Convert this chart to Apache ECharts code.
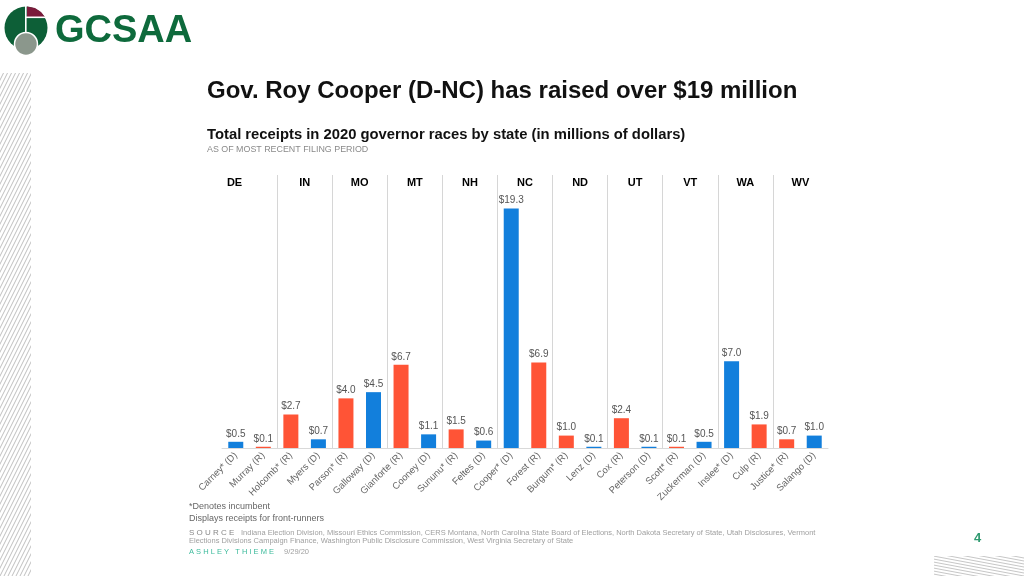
<!DOCTYPE html>
<html>
<head>
<meta charset="utf-8">
<style>
  html, body { margin: 0; padding: 0; background: #ffffff; }
  #chart { width: 1024px; height: 576px; }
</style>
<script src="https://cdn.jsdelivr.net/npm/echarts@6/dist/echarts.min.js"></script>
</head>
<body>
<div id="chart"></div>
<script>
// ---- data ----
var states = ['DE', 'IN', 'MO', 'MT', 'NH', 'NC', 'ND', 'UT', 'VT', 'WA', 'WV'];
var candidates = ['Carney*', 'Murray', 'Holcomb*', 'Myers', 'Parson*', 'Galloway', 'Gianforte', 'Cooney',
  'Sununu*', 'Feltes', 'Cooper*', 'Forest', 'Burgum*', 'Lenz', 'Cox', 'Peterson', 'Scott*', 'Zuckerman',
  'Inslee*', 'Culp', 'Justice*', 'Salango'];
var parties = ['D', 'R', 'R', 'D', 'R', 'D', 'R', 'D', 'R', 'D', 'D', 'R', 'R', 'D', 'R', 'D', 'R', 'D',
  'D', 'R', 'R', 'D'];
var receipts = [0.5, 0.1, 2.7, 0.7, 4.0, 4.5, 6.7, 1.1, 1.5, 0.6, 19.3, 6.9, 1.0, 0.1, 2.4, 0.1, 0.1, 0.5,
  7.0, 1.9, 0.7, 1.0];

var partyColors = { D: '#127fdc', R: '#ff5436' };
var candidateLabels = candidates.map(function (n, i) { return n + ' (' + parties[i] + ')'; });

// ---- hatch pattern tiles ----
function hatchUp() {
  var c = document.createElement('canvas');
  c.width = 4; c.height = 8;
  var ctx = c.getContext('2d');
  ctx.strokeStyle = '#b8b8b8';
  ctx.lineWidth = 0.9;
  ctx.beginPath();
  [-4, 0, 4].forEach(function (k) { ctx.moveTo(k, 8); ctx.lineTo(k + 4, 0); });
  ctx.stroke();
  return c;
}
function hatchDown() {
  var c = document.createElement('canvas');
  c.width = 16; c.height = 3;
  var ctx = c.getContext('2d');
  ctx.strokeStyle = '#b8b8b8';
  ctx.lineWidth = 0.8;
  ctx.beginPath();
  [-3, 0, 3].forEach(function (k) { ctx.moveTo(0, k); ctx.lineTo(16, k + 3); });
  ctx.stroke();
  return c;
}

var chart = echarts.init(document.getElementById('chart'), null, { renderer: 'canvas' });
var sans = '"Liberation Sans", Arial, sans-serif';
var narrow = '"Liberation Sans Narrow", "Liberation Sans", Arial, sans-serif';

var option = {
  backgroundColor: '#ffffff',
  animation: false,
  title: [
    { text: 'Gov. Roy Cooper (D-NC) has raised over $19 million', left: 207, top: 79, padding: 0,
      textStyle: { fontFamily: sans, fontSize: 24, fontWeight: 'bold', color: '#111' } },
    { text: 'Total receipts in 2020 governor races by state (in millions of dollars)', left: 207, top: 127, padding: 0,
      textStyle: { fontFamily: sans, fontSize: 14.8, fontWeight: 'bold', color: '#111' } },
    { text: 'AS OF MOST RECENT FILING PERIOD', left: 207, top: 145, padding: 0,
      textStyle: { fontFamily: sans, fontSize: 8.9, fontWeight: 'normal', color: '#8a8a8a' } }
  ],
  grid: { left: 222, right: 196, top: 175, bottom: 128, containLabel: false },
  xAxis: [
    {
      type: 'category', data: candidateLabels, position: 'bottom',
      axisLine: { show: true, lineStyle: { color: '#d9d9d9', width: 1 } },
      axisTick: { show: false },
      axisLabel: { rotate: 45, interval: 0, margin: 6, color: '#666', fontSize: 9.5, fontFamily: sans },
      splitLine: { show: false }
    },
    {
      type: 'category', data: states, position: 'top',
      axisLine: { show: false }, axisTick: { show: false },
      axisLabel: {
        inside: true, interval: 0, margin: 2, color: '#000', fontSize: 11, fontWeight: 'bold', fontFamily: sans,
        formatter: function (v, i) { return i === 0 ? '{de|' + v + '}' : v; },
        rich: { de: { padding: [0, 30, 0, 0], fontSize: 11, fontWeight: 'bold', color: '#000', fontFamily: sans } }
      },
      splitLine: { show: true, showMinLine: false, showMaxLine: false, lineStyle: { color: '#d6d6d6', width: 1 } }
    }
  ],
  yAxis: { type: 'value', min: 0, max: 22, show: false, splitLine: { show: false } },
  series: [{
    type: 'bar', xAxisIndex: 0, barWidth: 15,
    data: receipts.map(function (v, i) {
      return { value: v, itemStyle: { color: partyColors[parties[i]] } };
    }),
    label: {
      show: true, position: 'top', distance: 3, color: '#555', fontSize: 10, fontFamily: sans,
      formatter: function (p) { return '$' + p.value.toFixed(1); }
    }
  }],
  graphic: [
    // logo
    { type: 'circle', shape: { cx: 26, cy: 28, r: 21.5 }, style: { fill: '#0d5f37' } },
    { type: 'polygon', shape: { points: [[27, 6.5], [35, 8], [41, 12], [45, 17], [27, 17]] }, style: { fill: '#7b1a3b' } },
    { type: 'rect', shape: { x: 25, y: 5, width: 1.6, height: 28 }, style: { fill: '#fff' } },
    { type: 'rect', shape: { x: 25.5, y: 16.5, width: 23, height: 1.6 }, style: { fill: '#fff' } },
    { type: 'circle', shape: { cx: 26, cy: 44, r: 11.5 }, style: { fill: '#8b978c', stroke: '#fff', lineWidth: 1.5 } },
    { type: 'text', left: 55, top: 13, style: { text: 'GCSAA', fill: '#0e6a3c', font: 'bold 38px ' + sans } },
    // hatching
    { type: 'rect', shape: { x: 0, y: 73, width: 31, height: 503 }, silent: true,
      style: { fill: { image: hatchUp(), repeat: 'repeat' } } },
    { type: 'rect', shape: { x: 934, y: 556, width: 90, height: 20 }, silent: true,
      style: { fill: { image: hatchDown(), repeat: 'repeat' } } },
    // footer
    { type: 'text', left: 189, top: 502, style: { text: '*Denotes incumbent', fill: '#666', font: '9px ' + narrow } },
    { type: 'text', left: 189, top: 514, style: { text: 'Displays receipts for front-runners', fill: '#666', font: '9px ' + narrow } },
    { type: 'text', left: 189, top: 527, style: {
        text: '{s|S O U R C E}  {t|Indiana Election Division, Missouri Ethics Commission, CERS Montana, North Carolina State Board of Elections, North Dakota Secretary of State, Utah Disclosures, Vermont}',
        rich: { s: { fill: '#888', font: '8px ' + sans }, t: { fill: '#a0a0a0', font: '7.5px ' + narrow } } } },
    { type: 'text', left: 189, top: 537, style: {
        text: 'Elections Divisions Campaign Finance, Washington Public Disclosure Commission, West Virginia Secretary of State',
        fill: '#a0a0a0', font: '7.5px ' + narrow } },
    { type: 'text', left: 189, top: 546, style: {
        text: '{a|A S H L E Y   T H I E M E}   {b|9/29/20}',
        rich: { a: { fill: '#3dbb9c', font: '7.5px ' + sans }, b: { fill: '#a0a0a0', font: '7.5px ' + narrow } } } },
    { type: 'text', left: 974, top: 532, style: { text: '4', fill: '#2f9a70', font: 'bold 13px ' + sans } }
  ]
};
chart.setOption(option);
</script>
</body>
</html>
